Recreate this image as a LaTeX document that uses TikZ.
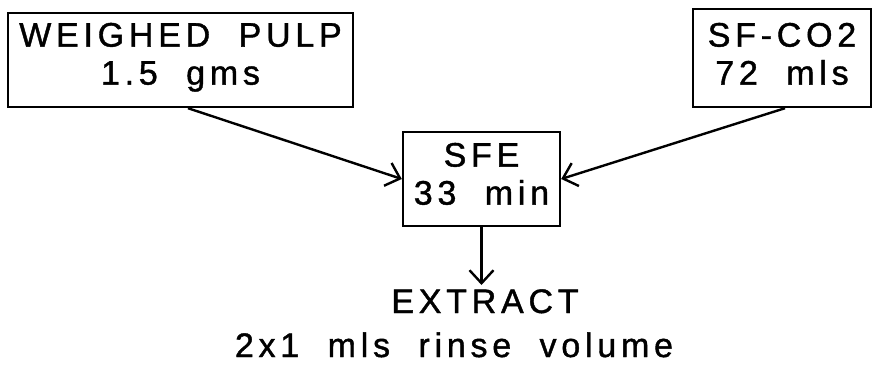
\documentclass[tikz,border=0pt]{standalone}
\usepackage{fontspec}
\setmainfont{Liberation Sans}[LetterSpace=14, WordSpace=2, FakeBold=1.2]
\usetikzlibrary{arrows.meta}
\begin{document}
\begin{tikzpicture}[x=1pt,y=-1pt,
  lbl/.style={font=\fontsize{34}{38}\selectfont, inner sep=0pt},
  stepbox/.style={lbl, draw, line width=2.4pt, align=center},
  conn/.style={line width=2.4pt, -{Straight Barb[length=13pt,width=24pt,line width=2.4pt]}}]
\useasboundingbox (0,0) rectangle (872,364);
\node[stepbox, minimum width=345pt, minimum height=94pt] (b1) at (180.5,60) {WEIGHED PULP\\1.5 gms\rule[-12.5pt]{0pt}{0pt}};
\node[stepbox, minimum width=178pt, minimum height=98pt] (b2) at (782,58) {SF-CO2\\72 mls\rule[-8.5pt]{0pt}{0pt}};
\node[stepbox, minimum width=157pt, minimum height=94pt] (sfe) at (481.5,179) {SFE\\33 min\rule[-10.5pt]{0pt}{0pt}};
\node[lbl, anchor=base] (ext1) at (485,313) {EXTRACT};
\node[lbl, anchor=base] (ext2) at (454,357) {2x1 mls rinse volume};
\coordinate (tip) at (sfe.south |- 0,285);
\draw[conn] (b1.south) ++(7.5,0) -- (sfe.west);
\draw[conn] (b2.south) ++(3,0) -- (sfe.east);
\draw[conn] (sfe.south) -- (tip);
\end{tikzpicture}
\end{document}
